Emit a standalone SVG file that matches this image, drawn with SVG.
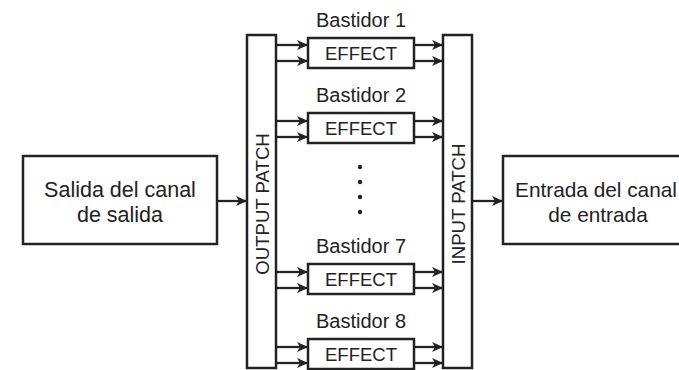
<svg xmlns="http://www.w3.org/2000/svg" width="679" height="370" viewBox="0 0 679 370">
<defs>
<marker id="ah" markerWidth="11" markerHeight="10" refX="11" refY="5" orient="auto" markerUnits="userSpaceOnUse">
<path d="M0,0 L11,5 L0,10 L3,5 z" fill="#222"/>
</marker>
<style>
.box{fill:#fff;stroke:#222;stroke-width:2.5}
.t{font-family:"Liberation Sans",Arial,sans-serif;font-size:21.5px;fill:#222;text-anchor:middle}
.b{font-family:"Liberation Sans",Arial,sans-serif;font-size:20px;fill:#222;text-anchor:middle}
.e{font-family:"Liberation Sans",Arial,sans-serif;font-size:18.5px;fill:#222;text-anchor:middle}
.r{font-family:"Liberation Sans",Arial,sans-serif;font-size:18.6px;fill:#222;text-anchor:middle}
.c{stroke:#222;stroke-width:2.3;fill:none;marker-end:url(#ah)}
</style>
</defs>
<rect width="679" height="370" fill="#fff"/>
<g id="connectors">
<line class="c" x1="217" y1="201" x2="247" y2="201"/>
<line class="c" x1="472" y1="201" x2="503" y2="201"/>
<line class="c" x1="276" y1="45" x2="308" y2="45"/>
<line class="c" x1="276" y1="61" x2="308" y2="61"/>
<line class="c" x1="414" y1="45" x2="443" y2="45"/>
<line class="c" x1="414" y1="61" x2="443" y2="61"/>
<line class="c" x1="276" y1="121" x2="308" y2="121"/>
<line class="c" x1="276" y1="137" x2="308" y2="137"/>
<line class="c" x1="414" y1="121" x2="443" y2="121"/>
<line class="c" x1="414" y1="137" x2="443" y2="137"/>
<line class="c" x1="276" y1="272" x2="308" y2="272"/>
<line class="c" x1="276" y1="288" x2="308" y2="288"/>
<line class="c" x1="414" y1="272" x2="443" y2="272"/>
<line class="c" x1="414" y1="288" x2="443" y2="288"/>
<line class="c" x1="276" y1="347" x2="308" y2="347"/>
<line class="c" x1="276" y1="363" x2="308" y2="363"/>
<line class="c" x1="414" y1="347" x2="443" y2="347"/>
<line class="c" x1="414" y1="363" x2="443" y2="363"/>
</g>
<g id="salida">
<rect class="box" x="23" y="156" width="194" height="88"/>
<text class="t" x="120" y="197">Salida del canal</text>
<text class="t" x="120" y="222">de salida</text>
</g>
<g id="output-patch">
<rect class="box" x="247" y="35" width="29" height="333"/>
<text class="r" transform="translate(269,204) rotate(-90)">OUTPUT PATCH</text>
</g>
<g id="input-patch">
<rect class="box" x="443" y="35" width="29" height="333"/>
<text class="r" transform="translate(465,204) rotate(-90)">INPUT PATCH</text>
</g>
<g id="entrada">
<rect class="box" x="503" y="156" width="200" height="88"/>
<text class="t" x="596" y="197" style="font-size:20.8px">Entrada del canal</text>
<text class="t" x="598" y="222" style="font-size:20.8px">de entrada</text>
</g>
<g id="rack1">
<text class="b" x="361" y="27">Bastidor 1</text>
<rect class="box" x="308" y="38" width="106" height="30"/>
<text class="e" x="361" y="60">EFFECT</text>
</g>
<g id="rack2">
<text class="b" x="361" y="102">Bastidor 2</text>
<rect class="box" x="308" y="113" width="106" height="30"/>
<text class="e" x="361" y="135">EFFECT</text>
</g>
<g id="dots" fill="#222">
<circle cx="360" cy="167" r="2.2"/>
<circle cx="360" cy="182" r="2.2"/>
<circle cx="360" cy="197" r="2.2"/>
<circle cx="360" cy="212" r="2.2"/>
</g>
<g id="rack7">
<text class="b" x="361" y="253">Bastidor 7</text>
<rect class="box" x="308" y="264" width="106" height="30"/>
<text class="e" x="361" y="286">EFFECT</text>
</g>
<g id="rack8">
<text class="b" x="361" y="328">Bastidor 8</text>
<rect class="box" x="308" y="339" width="106" height="30"/>
<text class="e" x="361" y="361">EFFECT</text>
</g>
</svg>
